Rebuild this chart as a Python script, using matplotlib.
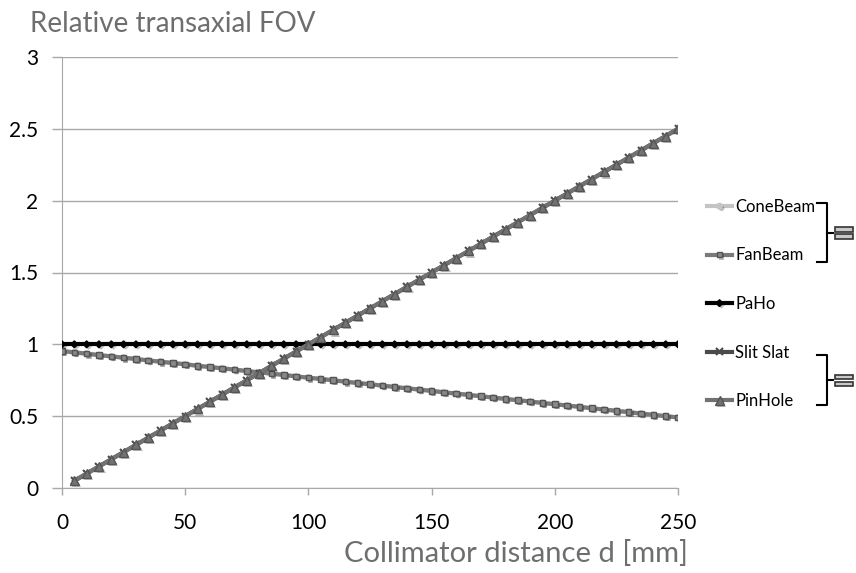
import numpy as np
import matplotlib.pyplot as plt
import matplotlib.patheffects as pe
from matplotlib.patches import Rectangle

plt.rcParams['font.family'] = ['Lato', 'DejaVu Sans']

# collimator distance d [mm]
d_full = list(range(0, 255, 5))
d_pin = list(range(5, 255, 5))

fan_beam = [0.953, 0.944, 0.935, 0.925, 0.916, 0.907, 0.898, 0.888, 0.879, 0.870,
            0.861, 0.851, 0.842, 0.833, 0.824, 0.814, 0.805, 0.796, 0.787, 0.777,
            0.768, 0.759, 0.750, 0.740, 0.731, 0.722, 0.713, 0.703, 0.694, 0.685,
            0.676, 0.666, 0.657, 0.648, 0.639, 0.629, 0.620, 0.611, 0.602, 0.592,
            0.583, 0.574, 0.565, 0.555, 0.546, 0.537, 0.528, 0.518, 0.509, 0.500,
            0.491]
cone_beam = list(fan_beam)
paho = [1.0] * 51
pin_hole = [0.05, 0.10, 0.15, 0.20, 0.25, 0.30, 0.35, 0.40, 0.45, 0.50,
            0.55, 0.60, 0.65, 0.70, 0.75, 0.80, 0.85, 0.90, 0.95, 1.00,
            1.05, 1.10, 1.15, 1.20, 1.25, 1.30, 1.35, 1.40, 1.45, 1.50,
            1.55, 1.60, 1.65, 1.70, 1.75, 1.80, 1.85, 1.90, 1.95, 2.00,
            2.05, 2.10, 2.15, 2.20, 2.25, 2.30, 2.35, 2.40, 2.45, 2.50]
slit_slat = list(pin_hole)

W, H = 856, 573
fig = plt.figure(figsize=(W/100, H/100), dpi=100)
ax = fig.add_axes([62/W, 1-488/H, 616/W, 431/H])

shadow = [pe.SimplePatchShadow(offset=(1.5, -1.5), shadow_rgbFace='k', alpha=0.25), pe.Normal()]

ax.plot(d_full, cone_beam, color="#c4c4c4", lw=3, marker="o", ms=4, label="ConeBeam", path_effects=shadow, zorder=3)
ax.plot(d_full, fan_beam, color="#7a7a7a", lw=3, marker="s", ms=4, mfc="#8a8a8a", mec="#555555", label="FanBeam", path_effects=shadow, zorder=4)
ax.plot(d_full, paho, color="black", lw=3, marker="D", ms=3.5, label="PaHo", path_effects=shadow, zorder=5)
ax.plot(d_pin, slit_slat, color="#4a4a4a", lw=3, marker="x", ms=5, mew=1.5, label="Slit Slat", path_effects=shadow, zorder=6)
ax.plot(d_pin, pin_hole, color="#727272", lw=3, marker="^", ms=6.5, mec="#555555", label="PinHole", path_effects=shadow, zorder=7)

ax.set_xlim(0, 250)
ax.set_ylim(0, 3)
ax.set_xticks([0, 50, 100, 150, 200, 250])
ax.set_yticks([0, 0.5, 1, 1.5, 2, 2.5, 3])
ax.set_yticklabels(["0", "0.5", "1", "1.5", "2", "2.5", "3"])
ax.yaxis.grid(True, color="#a8a8a8", lw=1)
ax.set_axisbelow(True)
for s in ["top", "right"]:
    ax.spines[s].set_visible(False)
ax.spines["left"].set_color("#a8a8a8")
ax.spines["bottom"].set_color("#a8a8a8")
ax.tick_params(axis="y", length=7, width=1, color="#a8a8a8", pad=10, labelsize=15)
ax.tick_params(axis="x", length=5, width=1, color="#a8a8a8", pad=13, labelsize=15)

fig.text(30/W, 1-24/H, "Relative transaxial FOV", fontsize=20, color="#6e6e6e", va="center", ha="left")
fig.text(688/W, 1-553/H, "Collimator distance d [mm]", fontsize=21, color="#6e6e6e", va="center", ha="right")

ax.legend(loc="center left", bbox_to_anchor=(707/W, 1-304/H), bbox_transform=fig.transFigure,
          frameon=False, fontsize=12, handlelength=1.5, handletextpad=0.2, labelspacing=1.95,
          borderpad=0, borderaxespad=0, numpoints=1)

# brackets with equal signs
for y0, y1 in [(203, 262), (355, 405)]:
    xb = 827
    ym = (y0 + y1) / 2
    ax.plot([(xb-10)/W, xb/W, xb/W, (xb-10)/W], [1-y0/H, 1-y0/H, 1-y1/H, 1-y1/H],
            transform=fig.transFigure, color="black", lw=1.5, clip_on=False)
    ax.plot([xb/W, (xb+6)/W], [1-ym/H, 1-ym/H], transform=fig.transFigure, color="black", lw=1.5, clip_on=False)
    for yb in [ym - 5, ym + 2]:
        fig.add_artist(Rectangle((835/W, 1-(yb+4)/H), 18/W, 4/H, transform=fig.transFigure,
                                 facecolor="#c8c8c8", edgecolor="#333333", lw=1.2))

fig.savefig("out.png", dpi=100)
